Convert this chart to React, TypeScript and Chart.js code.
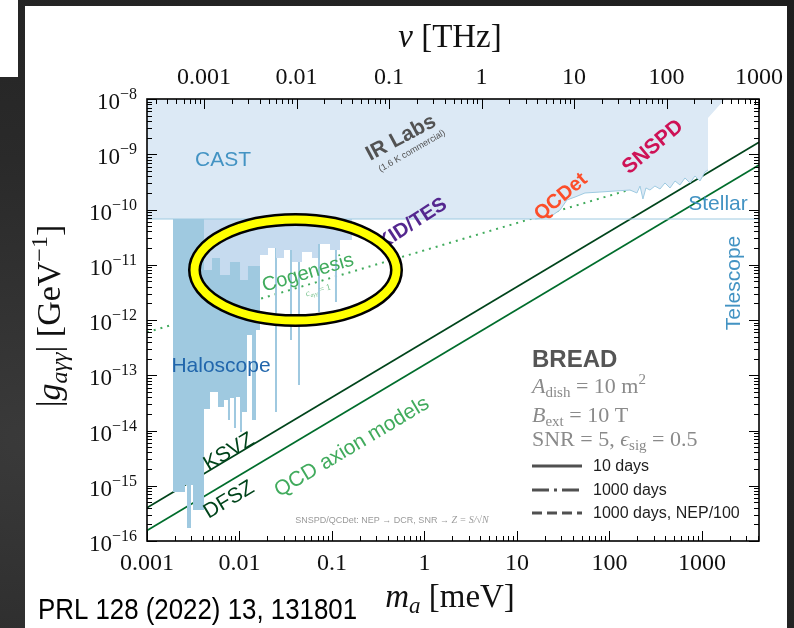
import React, { useEffect, useRef } from 'react';
import { Chart, registerables } from 'chart.js';

Chart.register(...registerables);

// ---------------- data ----------------
const massMin = 0.001; // meV
const massMax = 4135.67; // meV (= 1000 THz)
const thzPerMeV = 0.241799;
const couplingMin = 1e-16;
const couplingMax = 1e-8;

const meVTickValues = [0.001, 0.01, 0.1, 1, 10, 100, 1000];
const meVTickLabels = ['0.001', '0.01', '0.1', '1', '10', '100', '1000'];
const thzTickValues = [0.001, 0.01, 0.1, 1, 10, 100, 1000];
const thzTickLabels = ['0.001', '0.01', '0.1', '1', '10', '100', '1000'];
const couplingExponents = [-8, -9, -10, -11, -12, -13, -14, -15, -16];

// CAST + IR labs / SNSPD / QCDet excluded region (lower boundary)
const upperMass = [0.001, 15.7, 22.7, 29.2, 34.7, 42.4, 54.3, 78.9, 115, 167, 198, 214, 230, 248, 274, 310, 352, 398, 451, 511, 578, 655, 742, 840, 951, 1077, 1161, 1161, 1773];
const upperLimit = [6.73e-11, 6.73e-11, 7.32e-11, 9.79e-11, 1.49e-10, 1.68e-10, 1.99e-10, 2.07e-10, 2.16e-10, 2.25e-10, 1.99e-10, 2.66e-10, 1.55e-10, 2.45e-10, 2.25e-10, 2.66e-10, 2.35e-10, 3.02e-10, 2.45e-10, 3.28e-10, 2.78e-10, 3.72e-10, 3.02e-10, 4.04e-10, 3.28e-10, 4.77e-10, 5.19e-10, 4.53e-9, 1e-8];

// Haloscope limits (dark)
const haloMass = [0.00191, 0.00191, 0.002575, 0.002575, 0.002706, 0.002706, 0.00299, 0.00299, 0.003144, 0.003144, 0.004131, 0.004131, 0.0048, 0.0048, 0.005855, 0.005855, 0.006797, 0.006797, 0.007508, 0.007508, 0.007892, 0.007892, 0.008717, 0.008717, 0.009167, 0.009167, 0.01013, 0.01013, 0.01064, 0.01064, 0.01205, 0.01205, 0.01365, 0.01365, 0.01508, 0.01508, 0.01666, 0.01666, 0.0242, 0.0242, 0.02543, 0.02543, 0.03515, 0.03515, 0.03695, 0.03695, 0.04289, 0.04289, 0.04509, 0.04509, 0.07058, 0.07058, 0.0742, 0.0742, 0.1077, 0.1077, 0.1132, 0.1132];
const haloLimit = [6.73e-11, 7.7e-16, 7.7e-16, 1.03e-15, 1.03e-15, 1.72e-16, 1.72e-16, 1.03e-15, 1.03e-15, 3.64e-16, 3.64e-16, 2.45e-14, 2.45e-14, 4.97e-14, 4.97e-14, 2.66e-14, 2.66e-14, 3.56e-14, 3.56e-14, 1.55e-14, 1.55e-14, 3.88e-14, 3.88e-14, 1.11e-14, 1.11e-14, 4.04e-14, 4.04e-14, 9.4e-15, 9.4e-15, 2.16e-14, 2.16e-14, 5.35e-13, 5.35e-13, 1.55e-14, 1.55e-14, 6.59e-13, 6.59e-13, 6.73e-11, 6.73e-11, 2.16e-14, 2.16e-14, 6.73e-11, 6.73e-11, 4.35e-13, 4.35e-13, 6.73e-11, 6.73e-11, 6.66e-14, 6.66e-14, 6.73e-11, 6.73e-11, 1.4e-12, 1.4e-12, 6.73e-11, 6.73e-11, 2.12e-12, 2.12e-12, 6.73e-11];

// Haloscope limits (light)
const haloLightMass = [0.004131, 0.004131, 0.005043, 0.005043, 0.006155, 0.006155, 0.007892, 0.007892, 0.01013, 0.01013, 0.01235, 0.01235, 0.01666, 0.01666, 0.02033, 0.02033, 0.02481, 0.02481, 0.03027, 0.03027, 0.03695, 0.03695, 0.0474, 0.0474, 0.06079, 0.06079, 0.07058, 0.07058, 0.09515, 0.09515, 0.1221, 0.1221, 0.1645, 0.1645];
const haloLightLimit = [6.73e-11, 8.04e-12, 8.04e-12, 1.33e-11, 1.33e-11, 6.52e-12, 6.52e-12, 1.12e-11, 1.12e-11, 5.3e-12, 5.3e-12, 9.49e-12, 9.49e-12, 1.5e-11, 1.5e-11, 2.01e-11, 2.01e-11, 1.33e-11, 1.33e-11, 1.85e-11, 1.85e-11, 1.12e-11, 1.12e-11, 1.7e-11, 1.7e-11, 1.33e-11, 1.33e-11, 2.37e-11, 2.37e-11, 1.85e-11, 1.85e-11, 2.81e-11, 2.81e-11, 6.73e-11];

const stellarMass = [0.001, 4135.67];
const stellarLimit = [6.73e-11, 6.73e-11];

const ksvzMass = [0.001, 4135.67];
const ksvzCoupling = [4.0e-16, 1.65e-9];
const dfszMass = [0.001, 4135.67];
const dfszCoupling = [1.55e-16, 6.4e-10];
const cogenesisMass = [0.001, 175];
const cogenesisCoupling = [6.0e-13, 2.35e-10];

// highlight ellipse (bounding box in data units)
const ellipseMass = [0.002774, 0.5857];
const ellipseCoupling = [8.64e-11, 7.47e-13];

const SANS = '"Liberation Sans", Arial, sans-serif';
const SERIF = '"Liberation Serif", "Times New Roman", serif';

type PlotLabel = { text: string; m: number; g: number; angle: number; color: string; font: string };
const plotLabels: PlotLabel[] = [
  { text: 'CAST', m: 0.006633, g: 7.87e-10, angle: 0, color: '#4393c3', font: `21px ${SANS}` },
  { text: 'IR Labs', m: 0.5571, g: 1.968e-9, angle: -28, color: '#525252', font: `bold 21px ${SANS}` },
  { text: '(1.6 K commercial)', m: 0.7327, g: 1.145e-9, angle: -30, color: '#525252', font: `9px ${SANS}` },
  { text: 'SNSPD', m: 295.3, g: 1.353e-9, angle: -40, color: '#ce1256', font: `bold 21px ${SANS}` },
  { text: 'QCDet', m: 29.9, g: 1.683e-10, angle: -40, color: '#fc4e2a', font: `bold 20px ${SANS}` },
  { text: 'KID/TES', m: 0.7327, g: 5.46e-11, angle: -33, color: '#54278f', font: `bold 20px ${SANS}` },
  { text: 'Cogenesis', m: 0.05501, g: 7.09e-12, angle: -16.5, color: '#41ab5d', font: `20px ${SANS}` },
  { text: 'Haloscope', m: 0.00631, g: 1.47e-13, angle: 0, color: '#2166ac', font: `21px ${SANS}` },
  { text: 'Stellar', m: 1489, g: 1.258e-10, angle: 0, color: '#4393c3', font: `21px ${SANS}` },
  { text: 'Telescope', m: 2218, g: 4.67e-12, angle: -90, color: '#4393c3', font: `21px ${SANS}` },
  { text: 'KSVZ', m: 0.007698, g: 4.08e-15, angle: -30.85, color: '#00441b', font: `21px ${SANS}` },
  { text: 'DFSZ', m: 0.007698, g: 5.52e-16, angle: -30.85, color: '#00441b', font: `21px ${SANS}` },
  { text: 'QCD axion models', m: 0.1645, g: 5.03e-15, angle: -30.85, color: '#41ab5d', font: `21px ${SANS}` },
];

const legendEntries = ['10 days', '1000 days', '1000 days, NEP/100'];
const legendDashes = [[], [17, 5, 3, 5], [10, 5]];

// ---------------- helpers ----------------
type Run = { t: string; f: string; dy?: number };
function runsWidth(ctx: CanvasRenderingContext2D, runs: Run[]) {
  let w = 0;
  for (const r of runs) { ctx.font = r.f; w += ctx.measureText(r.t).width; }
  return w;
}
function drawRuns(ctx: CanvasRenderingContext2D, runs: Run[], x: number, y: number, align: 'left' | 'center' | 'right', color: string) {
  const w = runsWidth(ctx, runs);
  let cx = align === 'left' ? x : align === 'center' ? x - w / 2 : x - w;
  ctx.fillStyle = color;
  ctx.textAlign = 'left';
  ctx.textBaseline = 'alphabetic';
  for (const r of runs) {
    ctx.font = r.f;
    ctx.fillText(r.t, cx, y + (r.dy || 0));
    cx += ctx.measureText(r.t).width;
  }
}
function logTicks(min: number, max: number) {
  const out: { v: number; major: boolean }[] = [];
  for (let e = Math.floor(Math.log10(min)); e <= Math.ceil(Math.log10(max)); e++) {
    for (let k = 1; k <= 9; k++) {
      const v = k * Math.pow(10, e);
      if (v >= min * 0.9999 && v <= max * 1.0001) out.push({ v, major: k === 1 });
    }
  }
  return out;
}
const pts = (xs: number[], ys: number[]) => xs.map((x, i) => ({ x, y: ys[i] }));

const decor = {
  id: 'decor',
  afterDatasetsDraw(chart: any) {
    const ctx: CanvasRenderingContext2D = chart.ctx;
    const ca = chart.chartArea;
    const sx = chart.scales.x, sy = chart.scales.y, st = chart.scales.xTop;
    const P = (m: number, g: number) => [sx.getPixelForValue(m), sy.getPixelForValue(g)];

    ctx.save();
    ctx.beginPath();
    ctx.rect(ca.left, ca.top, ca.right - ca.left, ca.bottom - ca.top);
    ctx.clip();

    // in-plot labels
    for (const L of plotLabels) {
      const [px, py] = P(L.m, L.g);
      ctx.save();
      ctx.translate(px, py);
      ctx.rotate((L.angle * Math.PI) / 180);
      ctx.font = L.font;
      ctx.fillStyle = L.color;
      ctx.textAlign = 'center';
      ctx.textBaseline = 'middle';
      ctx.fillText(L.text, 0, 0);
      ctx.restore();
    }
    // tiny coupling note under Cogenesis
    {
      const [px, py] = P(0.07058, 3.49e-12);
      ctx.save();
      ctx.translate(px, py);
      ctx.rotate((-16.5 * Math.PI) / 180);
      drawRuns(ctx, [
        { t: 'c', f: `italic 9px ${SERIF}` },
        { t: 'aγγ', f: `italic 6px ${SERIF}`, dy: 2 },
        { t: ' = 1', f: `9px ${SERIF}` },
      ], 0, 3, 'center', '#74c08a');
      ctx.restore();
    }
    // footnote
    {
      const [px, py] = P(0.4453, 2.4e-16);
      drawRuns(ctx, [
        { t: 'SNSPD/QCDet: NEP → DCR, SNR → ', f: `9px ${SANS}` },
        { t: 'Z = S/√N', f: `italic 10px ${SERIF}` },
      ], px, py + 3, 'center', '#9a9a9a');
    }
    // BREAD block
    {
      const lx = ca.left + 385;
      drawRuns(ctx, [{ t: 'BREAD', f: `bold 24px ${SANS}` }], lx, ca.top + 268, 'left', '#555555');
      const grey = '#8a8a8a';
      drawRuns(ctx, [
        { t: 'A', f: `italic 22px ${SERIF}` },
        { t: 'dish', f: `15px ${SERIF}`, dy: 4 },
        { t: ' = 10 m', f: `22px ${SERIF}` },
        { t: '2', f: `15px ${SERIF}`, dy: -9 },
      ], lx, ca.top + 294, 'left', grey);
      drawRuns(ctx, [
        { t: 'B', f: `italic 22px ${SERIF}` },
        { t: 'ext', f: `15px ${SERIF}`, dy: 4 },
        { t: ' = 10 T', f: `22px ${SERIF}` },
      ], lx, ca.top + 323, 'left', grey);
      drawRuns(ctx, [
        { t: 'SNR = 5, ', f: `22px ${SERIF}` },
        { t: 'ϵ', f: `italic 22px ${SERIF}` },
        { t: 'sig', f: `15px ${SERIF}`, dy: 4 },
        { t: ' = 0.5', f: `22px ${SERIF}` },
      ], lx, ca.top + 347, 'left', grey);
      const rows = [ca.top + 367, ca.top + 391, ca.top + 414];
      legendEntries.forEach((label, i) => {
        ctx.save();
        ctx.strokeStyle = '#505050';
        ctx.lineWidth = 3;
        ctx.setLineDash(legendDashes[i]);
        ctx.beginPath();
        ctx.moveTo(lx, rows[i]);
        ctx.lineTo(lx + 50, rows[i]);
        ctx.stroke();
        ctx.restore();
        ctx.font = `16px ${SANS}`;
        ctx.fillStyle = '#1e1e1e';
        ctx.textAlign = 'left';
        ctx.textBaseline = 'middle';
        ctx.fillText(label, lx + 61, rows[i] + 1);
      });
    }
    // highlight ellipse
    {
      const [x0, y0] = P(ellipseMass[0], ellipseCoupling[0]);
      const [x1, y1] = P(ellipseMass[1], ellipseCoupling[1]);
      const cx = (x0 + x1) / 2, cy = (y0 + y1) / 2;
      const rx = Math.abs(x1 - x0) / 2 - 6.5, ry = Math.abs(y1 - y0) / 2 - 6.5;
      ctx.beginPath();
      ctx.ellipse(cx, cy, rx, ry, 0, 0, Math.PI * 2);
      ctx.lineWidth = 13;
      ctx.strokeStyle = '#000';
      ctx.stroke();
      ctx.lineWidth = 8;
      ctx.strokeStyle = '#ffff00';
      ctx.stroke();
    }
    ctx.restore();

    // frame
    ctx.save();
    ctx.strokeStyle = '#000';
    ctx.lineWidth = 1.6;
    ctx.strokeRect(ca.left, ca.top, ca.right - ca.left, ca.bottom - ca.top);
    ctx.lineWidth = 1;
    const line = (a: number, b: number, c: number, d: number) => { ctx.beginPath(); ctx.moveTo(a, b); ctx.lineTo(c, d); ctx.stroke(); };
    for (const t of logTicks(massMin, massMax)) {
      const x = Math.round(sx.getPixelForValue(t.v)) + 0.5;
      line(x, ca.bottom, x, ca.bottom - (t.major ? 10 : 5));
    }
    for (const t of logTicks(massMin * thzPerMeV, massMax * thzPerMeV)) {
      const x = Math.round(st.getPixelForValue(t.v)) + 0.5;
      line(x, ca.top, x, ca.top + (t.major ? 10 : 5));
    }
    for (const t of logTicks(couplingMin, couplingMax)) {
      const y = Math.round(sy.getPixelForValue(t.v)) + 0.5;
      const len = t.major ? 10 : 5;
      line(ca.left, y, ca.left + len, y);
      line(ca.right, y, ca.right - len, y);
    }
    // tick labels
    ctx.fillStyle = '#111';
    ctx.font = `24px ${SERIF}`;
    ctx.textAlign = 'center';
    ctx.textBaseline = 'alphabetic';
    meVTickValues.forEach((v, i) => ctx.fillText(meVTickLabels[i], sx.getPixelForValue(v), ca.bottom + 29));
    thzTickValues.forEach((v, i) => ctx.fillText(thzTickLabels[i], st.getPixelForValue(v), ca.top - 15));
    couplingExponents.forEach((e) => {
      const y = sy.getPixelForValue(Math.pow(10, e));
      drawRuns(ctx, [
        { t: '10', f: `23px ${SERIF}` },
        { t: '−' + Math.abs(e), f: `16px ${SERIF}`, dy: -10 },
      ], ca.left - 10, y + 10, 'right', '#111');
    });
    // axis titles
    const midX = (ca.left + ca.right) / 2 - 3;
    drawRuns(ctx, [
      { t: 'ν', f: `italic 33px ${SERIF}` },
      { t: ' [THz]', f: `33px ${SERIF}` },
    ], midX, ca.top - 52, 'center', '#111');
    drawRuns(ctx, [
      { t: 'm', f: `italic 33px ${SERIF}` },
      { t: 'a', f: `italic 23px ${SERIF}`, dy: 6 },
      { t: ' [meV]', f: `33px ${SERIF}` },
    ], midX, ca.bottom + 66, 'center', '#111');
    ctx.save();
    ctx.translate(ca.left - 87, (ca.top + ca.bottom) / 2 - 4);
    ctx.rotate(-Math.PI / 2);
    drawRuns(ctx, [
      { t: '|', f: `34px ${SERIF}` },
      { t: 'g', f: `italic 34px ${SERIF}` },
      { t: 'aγγ', f: `italic 24px ${SERIF}`, dy: 7 },
      { t: '| [GeV', f: `34px ${SERIF}` },
      { t: '−1', f: `24px ${SERIF}`, dy: -13 },
      { t: ']', f: `34px ${SERIF}` },
    ], 0, 0, 'center', '#111');
    ctx.restore();
    // citation
    ctx.save();
    ctx.font = `29px ${SANS}`;
    const cite = 'PRL 128 (2022) 13, 131801';
    const w = ctx.measureText(cite).width;
    ctx.translate(38, ca.bottom + 78);
    ctx.scale(319 / w, 1);
    ctx.fillStyle = '#000';
    ctx.textAlign = 'left';
    ctx.fillText(cite, 0, 0);
    ctx.restore();
    ctx.restore();
  },
};

export default function App() {
  const ref = useRef<HTMLCanvasElement>(null);
  useEffect(() => {
    const canvas = ref.current!;
    const chart = new Chart(canvas, {
      type: 'line',
      data: {
        datasets: [
          { label: 'Stellar', data: pts(stellarMass, stellarLimit), borderColor: '#9ecae1', borderWidth: 1, fill: false, order: 0 },
          { label: 'QCDet / SNSPD edge', data: pts(upperMass.slice(1, 27), upperLimit.slice(1, 27)), borderColor: '#9ecae1', borderWidth: 1, fill: false, order: 1 },
          { label: 'CAST / lab limits', data: pts(upperMass, upperLimit), borderWidth: 0, borderColor: 'rgba(0,0,0,0)', backgroundColor: '#dce9f5', fill: 'end', order: 2 },
          { label: 'Haloscope (light)', data: pts(haloLightMass, haloLightLimit), borderWidth: 0, borderColor: 'rgba(0,0,0,0)', backgroundColor: '#c6dbef', fill: 'end', order: 3 },
          { label: 'Haloscope', data: pts(haloMass, haloLimit), borderWidth: 0, borderColor: 'rgba(0,0,0,0)', backgroundColor: '#9fc9e0', fill: 'end', order: 4 },
          { label: 'Cogenesis', data: pts(cogenesisMass, cogenesisCoupling), borderColor: '#41ab5d', borderWidth: 2, borderDash: [2, 5], fill: false, order: 5 },
          { label: 'KSVZ', data: pts(ksvzMass, ksvzCoupling), borderColor: '#00441b', borderWidth: 1.8, fill: false, order: 6 },
          { label: 'DFSZ', data: pts(dfszMass, dfszCoupling), borderColor: '#006d2c', borderWidth: 1.8, fill: false, order: 7 },
        ] as any,
      },
      options: {
        responsive: false,
        animation: false,
        devicePixelRatio: 1,
        events: [],
        layout: { padding: { left: 147, top: 99, right: 35, bottom: 87 } },
        scales: {
          x: { type: 'logarithmic', min: massMin, max: massMax, display: false, bounds: 'data' },
          y: { type: 'logarithmic', min: couplingMin, max: couplingMax, display: false, bounds: 'data' },
          xTop: { type: 'logarithmic', axis: 'x', position: 'top', min: massMin * thzPerMeV, max: massMax * thzPerMeV, display: false, bounds: 'data' },
        },
        elements: { point: { radius: 0 }, line: { tension: 0 } },
        plugins: { legend: { display: false }, tooltip: { enabled: false } },
      } as any,
      plugins: [decor],
    });
    return () => chart.destroy();
  }, []);

  return (
    <div style={{ position: 'absolute', left: 0, top: 0, width: 794, height: 628, overflow: 'hidden', background: 'radial-gradient(ellipse at 5% 70%, #3a3a3a 0%, #2a2a2a 45%, #1e1e1e 100%)' }}>
      <div style={{ position: 'absolute', left: 25, top: 6, width: 762, height: 622, background: '#ffffff' }} />
      <div style={{ position: 'absolute', left: 0, top: 0, width: 18, height: 77, background: '#ffffff' }} />
      <canvas ref={ref} width={794} height={628} style={{ position: 'absolute', left: 0, top: 0, width: 794, height: 628 }} />
    </div>
  );
}
